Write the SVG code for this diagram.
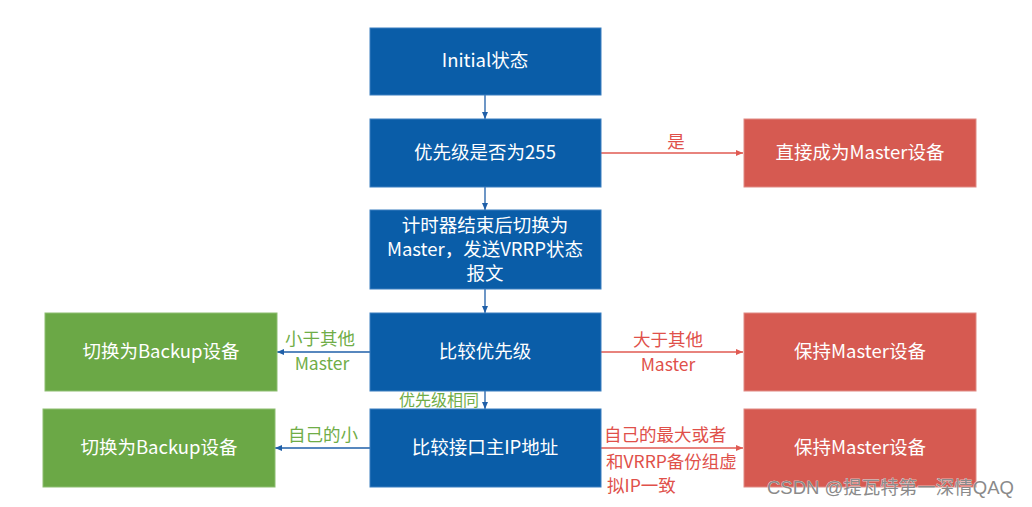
<svg xmlns="http://www.w3.org/2000/svg" width="1032" height="507" viewBox="0 0 1032 507">
<style>
.b{fill:#0A5DA8;stroke:#3B7FC0;stroke-width:1}
.r{fill:#D65A51;stroke:#E08A84;stroke-width:1}
.g{fill:#6BA846;stroke:#8DBE70;stroke-width:1}
.t{font-family:"Noto Sans CJK SC","Noto Sans",sans-serif;font-size:18.5px;fill:#fff;text-anchor:middle}
.lg{font-family:"Noto Sans CJK SC","Noto Sans",sans-serif;font-size:17.5px;fill:#70AD47;text-anchor:middle}
.lr{font-family:"Noto Sans CJK SC","Noto Sans",sans-serif;font-size:17.5px;fill:#E0504A;text-anchor:middle}
.cb{stroke:#1F5FA8;stroke-width:1.3;fill:none;marker-end:url(#ab)}
.cr{stroke:#E05A52;stroke-width:1.3;fill:none;marker-end:url(#ar)}
.wm{font-family:"Liberation Sans","Noto Sans CJK SC",sans-serif;font-size:18.5px;fill:#8a8a8a;stroke:#fff;stroke-width:0.5;paint-order:stroke}
</style>
<defs>
<marker id="ab" markerWidth="8" markerHeight="8" refX="7" refY="4" orient="auto" markerUnits="userSpaceOnUse"><path d="M0,1 L7,4 L0,7 Z" fill="#1F5FA8"/></marker>
<marker id="ar" markerWidth="8" markerHeight="8" refX="7" refY="4" orient="auto" markerUnits="userSpaceOnUse"><path d="M0,1 L7,4 L0,7 Z" fill="#E05A52"/></marker>
</defs>
<rect width="1032" height="507" fill="#fff"/>
<g id="connectors">
<line class="cb" x1="485" y1="95" x2="485" y2="119"/>
<line class="cb" x1="485" y1="187" x2="485" y2="210"/>
<line class="cb" x1="485" y1="289" x2="485" y2="313"/>
<line class="cb" x1="485" y1="391" x2="485" y2="409"/>
<line class="cr" x1="601" y1="153" x2="743" y2="153"/>
<line class="cr" x1="601" y1="352" x2="743" y2="352"/>
<line class="cr" x1="601" y1="448" x2="743" y2="448"/>
<line class="cb" x1="370" y1="352" x2="277" y2="352"/>
<line class="cb" x1="370" y1="448" x2="275" y2="448"/>
<text class="lr" x="676" y="148">是</text>
<text class="lg" x="320" y="345">小于其他</text>
<text class="lg" x="322" y="370">Master</text>
<text class="lr" x="668" y="346">大于其他</text>
<text class="lr" x="668" y="371">Master</text>
<text class="lg" x="439" y="406" style="font-size:16px">优先级相同</text>
<text class="lg" x="323" y="441">自己的小</text>
<text class="lr" x="604" y="441" style="text-anchor:start">自己的最大或者</text>
<text class="lr" x="606" y="468" style="text-anchor:start">和VRRP备份组虚</text>
<text class="lr" x="607" y="492" style="text-anchor:start">拟IP一致</text>
</g>
<g id="n1"><rect class="b" x="370" y="28" width="231" height="67"/><text class="t" x="485" y="67">Initial状态</text></g>
<g id="n2"><rect class="b" x="370" y="119" width="231" height="68"/><text class="t" x="485" y="159">优先级是否为255</text></g>
<g id="n3"><rect class="b" x="370" y="210" width="231" height="79"/><text class="t" x="485" y="232">计时器结束后切换为</text><text class="t" x="485" y="256">Master，发送VRRP状态</text><text class="t" x="485" y="280">报文</text></g>
<g id="n4"><rect class="b" x="370" y="313" width="231" height="78"/><text class="t" x="485" y="358">比较优先级</text></g>
<g id="n5"><rect class="b" x="370" y="409" width="231" height="78"/><text class="t" x="485" y="454">比较接口主IP地址</text></g>
<g id="r1"><rect class="r" x="744" y="119" width="232" height="68"/><text class="t" x="860" y="159">直接成为Master设备</text></g>
<g id="r2"><rect class="r" x="744" y="313" width="232" height="78"/><text class="t" x="860" y="358">保持Master设备</text></g>
<g id="r3"><rect class="r" x="744" y="409" width="232" height="78"/><text class="t" x="860" y="454">保持Master设备</text></g>
<g id="g1"><rect class="g" x="45" y="313" width="232" height="78"/><text class="t" x="161" y="358">切换为Backup设备</text></g>
<g id="g2"><rect class="g" x="43" y="409" width="232" height="78"/><text class="t" x="159" y="454">切换为Backup设备</text></g>
<text class="wm" x="767" y="494">CSDN @提瓦特第一深情QAQ</text>
</svg>
